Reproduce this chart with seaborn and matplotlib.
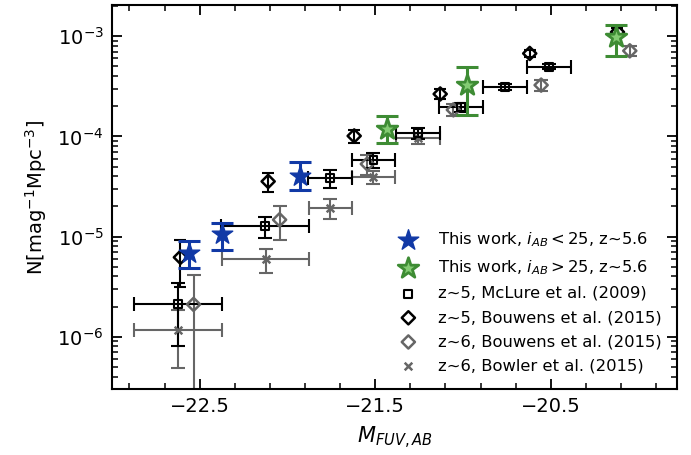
import numpy as np
import pandas as pd
import matplotlib
matplotlib.use("Agg")
import matplotlib.pyplot as plt
from matplotlib.ticker import FixedLocator, MultipleLocator, LogLocator
import seaborn as sns

# ---- data ----
blue_M = [-22.56, -22.375, -21.93]
blue_N = [6.9e-6, 1.05e-5, 4.0e-5]
blue_lo = [2.0e-6, 3.1e-6, 1.1e-5]
blue_hi = [2.1e-6, 3.0e-6, 1.5e-5]

green_M = [-21.435, -20.98, -20.13]
green_N = [1.18e-4, 3.25e-4, 9.85e-4]
green_lo = [3.3e-5, 1.6e-4, 3.5e-4]
green_hi = [4.2e-5, 1.65e-4, 3.2e-4]

mclure_M = [-22.625, -22.13, -21.76, -21.51, -21.255, -21.01, -20.76, -20.51]
mclure_N = [2.14e-6, 1.27e-5, 3.84e-5, 5.83e-5, 1.08e-4, 1.95e-4, 3.13e-4, 4.96e-4]
mclure_xerr = [0.25, 0.25, 0.125, 0.125, 0.125, 0.125, 0.125, 0.125]
mclure_yerr = [1.33e-6, 3.0e-6, 8.0e-6, 1.0e-5, 1.4e-5, 2.0e-5, 2.0e-5, 3.0e-5]

bouw5_M = [-22.61, -22.11, -21.62, -21.13, -20.62, -20.12]
bouw5_N = [6.2e-6, 3.55e-5, 1.01e-4, 2.65e-4, 6.73e-4, 1.1e-3]
bouw5_err = [3.1e-6, 7.7e-6, 1.5e-5, 3.0e-5, 5.0e-5, 1.0e-4]

bouw6_M = [-22.535, -22.045, -21.545, -21.055, -20.555, -20.05]
bouw6_N = [2.1e-6, 1.47e-5, 5.3e-5, 1.84e-4, 3.25e-4, 7.15e-4]
bouw6_err = [2.0e-6, 5.5e-6, 1.2e-5, 2.5e-5, 4.1e-5, 8.3e-5]

bowler_M = [-22.625, -22.125, -21.755, -21.51, -21.255]
bowler_N = [1.17e-6, 5.9e-6, 1.93e-5, 3.93e-5, 9.6e-5]
bowler_xerr = [0.25, 0.25, 0.125, 0.125, 0.125]
bowler_yerr = [6.8e-7, 1.6e-6, 4.2e-6, 6.0e-6, 1.3e-5]

labels = [
    r"This work, $i_{AB}<25$, z~5.6",
    r"This work, $i_{AB}>25$, z~5.6",
    "z~5, McLure et al. (2009)",
    "z~5, Bouwens et al. (2015)",
    "z~6, Bouwens et al. (2015)",
    "z~6, Bowler et al. (2015)",
]

BLUE = "#1139a6"
GREEN_E = "#3e8c34"
GREEN_F = "#84cc73"
GRAY = "#666666"

sns.set_style("ticks")
plt.rcParams["font.family"] = ["DejaVu Sans"]
plt.rcParams["mathtext.fontset"] = "dejavusans"
for key in ["text.color", "axes.labelcolor", "xtick.color", "ytick.color", "axes.edgecolor"]:
    plt.rcParams[key] = "black"

fig = plt.figure(figsize=(6.91, 4.55), dpi=100)
ax = fig.add_axes([0.162, 0.145, 0.818, 0.844])

# error bars
ax.errorbar(bowler_M, bowler_N, xerr=bowler_xerr, yerr=bowler_yerr, fmt="none",
            ecolor=GRAY, elinewidth=1.5, capsize=5, capthick=1.5, zorder=2)
ax.errorbar(bouw6_M, bouw6_N, yerr=bouw6_err, fmt="none",
            ecolor=GRAY, elinewidth=1.5, capsize=5, capthick=1.5, zorder=2)
ax.errorbar(mclure_M, mclure_N, xerr=mclure_xerr, yerr=mclure_yerr, fmt="none",
            ecolor="black", elinewidth=1.5, capsize=5, capthick=1.5, zorder=3)
ax.errorbar(bouw5_M, bouw5_N, yerr=bouw5_err, fmt="none",
            ecolor="black", elinewidth=1.5, capsize=4, capthick=1.5, zorder=3)
ax.errorbar(blue_M, blue_N, yerr=[blue_lo, blue_hi], fmt="none",
            ecolor=BLUE, elinewidth=2.2, capsize=8, capthick=2.2, zorder=5)
ax.errorbar(green_M, green_N, yerr=[green_lo, green_hi], fmt="none",
            ecolor=GREEN_E, elinewidth=2.2, capsize=8, capthick=2.2, zorder=5)

# markers via seaborn
sns.scatterplot(x=blue_M, y=blue_N, ax=ax, marker="*", s=240, color=BLUE,
                edgecolor=BLUE, linewidth=1.0, label=labels[0], zorder=6)
sns.scatterplot(x=green_M, y=green_N, ax=ax, marker="*", s=240, facecolor=GREEN_F,
                edgecolor=GREEN_E, linewidth=2.0, label=labels[1], zorder=6)
sns.scatterplot(x=mclure_M, y=mclure_N, ax=ax, marker="s", s=32, facecolor="none",
                edgecolor="black", linewidth=1.5, label=labels[2], zorder=4)
sns.scatterplot(x=bouw5_M, y=bouw5_N, ax=ax, marker="D", s=45, facecolor="none",
                edgecolor="black", linewidth=1.8, label=labels[3], zorder=4)
sns.scatterplot(x=bouw6_M, y=bouw6_N, ax=ax, marker="D", s=45, facecolor="none",
                edgecolor=GRAY, linewidth=1.8, label=labels[4], zorder=3)
sns.scatterplot(x=bowler_M, y=bowler_N, ax=ax, marker="x", s=30, color=GRAY,
                linewidth=1.8, label=labels[5], zorder=3)

ax.set_yscale("log")
ax.set_xlim(-23.0, -19.78)
ax.set_ylim(3.0e-7, 2.05e-3)

ax.xaxis.set_major_locator(FixedLocator([-22.5, -21.5, -20.5]))
ax.xaxis.set_minor_locator(MultipleLocator(0.2, offset=0.1))
ax.yaxis.set_major_locator(LogLocator(base=10))
ax.yaxis.set_minor_locator(LogLocator(base=10, subs=np.arange(2, 10)))

ax.tick_params(which="both", direction="in", top=True, right=True, colors="black")
ax.tick_params(which="major", length=7, width=1.3, labelsize=14, pad=6)
ax.tick_params(which="minor", length=4, width=1.1)
for sp in ax.spines.values():
    sp.set_linewidth(1.5)
    sp.set_color("black")

ax.set_xlabel(r"$M_{FUV,AB}$", fontsize=15, labelpad=6, color="black")
ax.set_ylabel(r"N[mag$^{-1}$Mpc$^{-3}$]", fontsize=14, labelpad=6, color="black")

leg = ax.legend(loc="lower right", frameon=False, fontsize=11.8, labelspacing=0.56,
                handletextpad=0.8, borderaxespad=0.55, scatterpoints=1)
for t in leg.get_texts():
    t.set_color("black")

fig.savefig("out.png", dpi=100)
